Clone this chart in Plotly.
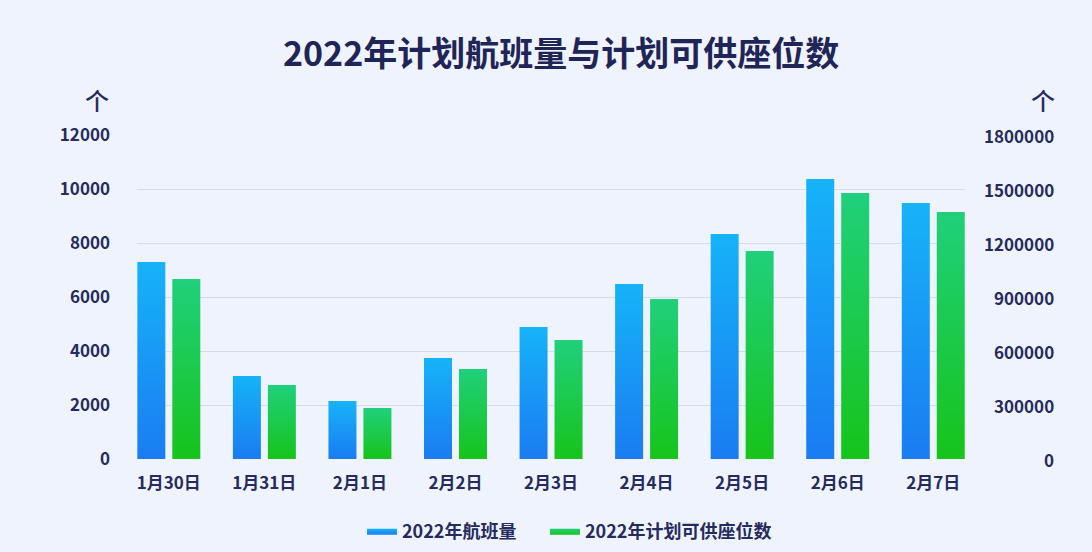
import plotly.graph_objects as go

# ---- data ----
categories = ['1月30日', '1月31日', '2月1日', '2月2日', '2月3日', '2月4日', '2月5日', '2月6日', '2月7日']
flights = [7300, 3070, 2150, 3740, 4890, 6480, 8330, 10370, 9480]
seats = [1000000, 411000, 283000, 500000, 661000, 889000, 1155000, 1478000, 1372000]
left_ticks = [0, 2000, 4000, 6000, 8000, 10000, 12000]
right_ticks = [0, 300000, 600000, 900000, 1200000, 1500000, 1800000]
series_names = ['2022年航班量', '2022年计划可供座位数']
title_text = '2022年计划航班量与计划可供座位数'
unit_text = '个'

# ---- style ----
W, H = 1092, 552
L, R, T, B = 137, 127, 135, 93
BG = '#eff3fd'
NAVY = '#252b5c'
GRID = '#d6dbe8'
FONT = 'Noto Sans CJK SC'
BLUE = ('#1a7cf2', '#16b3f8')   # bottom, top
GREEN = ('#16c41a', '#20d07c')
BAR_W = 0.293
OFF_BLUE = -0.329
OFF_GREEN = 0.037

fig = go.Figure()


def add_bars(values, offset, colors, name, yaxis, legend):
    for i, v in enumerate(values):
        x0 = i + offset
        x1 = x0 + BAR_W
        fig.add_trace(go.Scatter(
            x=[x0, x0, x1, x1, x0], y=[0, v, v, 0, 0],
            fill='toself', mode='lines', line=dict(width=0, color=colors[0]),
            fillgradient=dict(type='vertical', colorscale=[[0, colors[0]], [1, colors[1]]]),
            name=name, legendgroup=name, showlegend=(i == 0), legend=legend,
            hoverinfo='skip', yaxis=yaxis,
        ))


add_bars(flights, OFF_BLUE, BLUE, series_names[0], 'y', 'legend')
add_bars(seats, OFF_GREEN, GREEN, series_names[1], 'y2', 'legend2')

pw = W - L - R
ph = H - T - B

annotations = [
    dict(text=title_text, xref='paper', yref='paper', x=(561 - L) / pw, y=(H - B - 52) / ph,
         xanchor='center', yanchor='middle', showarrow=False,
         font=dict(family=FONT, size=34, color='#1f2556', weight=700)),
    dict(text=unit_text, xref='paper', yref='paper', x=(97 - L) / pw, y=(H - B - 100) / ph,
         xanchor='center', yanchor='middle', showarrow=False,
         font=dict(family=FONT, size=24, color=NAVY, weight=500)),
    dict(text=unit_text, xref='paper', yref='paper', x=(1043 - L) / pw, y=(H - B - 100) / ph,
         xanchor='center', yanchor='middle', showarrow=False,
         font=dict(family=FONT, size=24, color=NAVY, weight=500)),
]
for t in right_ticks:
    annotations.append(dict(text=str(t), xref='paper', yref='y2', x=(1056 - L) / pw, y=t,
                            xanchor='right', yanchor='middle', showarrow=False,
                            font=dict(family=FONT, size=17, color=NAVY, weight=600)))

legend_common = dict(orientation='h', xref='container', yref='container', xanchor='left',
                     yanchor='middle', y=1 - 531 / H, bgcolor='rgba(0,0,0,0)', itemwidth=30,
                     font=dict(family=FONT, size=18, color=NAVY, weight=600))

fig.update_layout(
    width=W, height=H,
    margin=dict(l=L, r=R, t=T, b=B, pad=0, autoexpand=False),
    paper_bgcolor=BG, plot_bgcolor=BG,
    font=dict(family=FONT, color=NAVY),
    xaxis=dict(range=[-0.3325, 8.3325], tickmode='array', tickvals=list(range(len(categories))),
               ticktext=categories, showgrid=False, zeroline=False, showline=False, ticks='',
               ticklabelstandoff=12, automargin=False,
               tickfont=dict(family=FONT, size=17, color=NAVY, weight=600), fixedrange=True),
    yaxis=dict(range=[0, 12000], tickmode='array', tickvals=left_ticks,
               ticktext=[str(v) for v in left_ticks], automargin=False,
               showgrid=True, gridcolor=GRID, gridwidth=1, zeroline=False, showline=False,
               ticks='', ticklabelstandoff=26,
               tickfont=dict(family=FONT, size=17, color=NAVY, weight=600)),
    yaxis2=dict(range=[0, 1800000], overlaying='y', side='right', tickmode='array',
                tickvals=right_ticks, showticklabels=False, showgrid=False, zeroline=False,
                showline=False, ticks='', automargin=False),
    legend=dict(x=362 / W, **legend_common),
    legend2=dict(x=545 / W, **legend_common),
    annotations=annotations,
    showlegend=True,
)

fig.write_html('out.html', config={'displayModeBar': False},
               post_script="document.body.style.margin='0';document.body.style.overflow='hidden';")
